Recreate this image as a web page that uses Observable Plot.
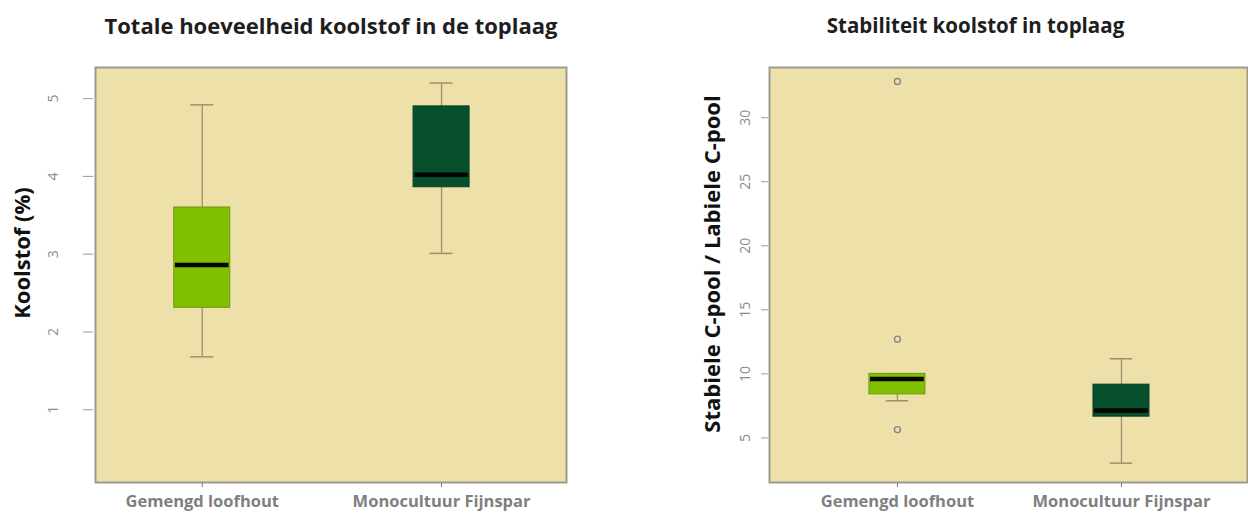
<!DOCTYPE html>
<html>
<head>
<meta charset="utf-8">
<script src="https://cdn.jsdelivr.net/npm/d3@7"></script>
<script src="https://cdn.jsdelivr.net/npm/@observablehq/plot@0.6"></script>
<style>
  html, body { margin: 0; padding: 0; background: #ffffff; overflow: hidden; }
  #wrap { position: relative; width: 1248px; height: 517px; }
  #left, #right { position: absolute; top: 0; }
  #left { left: 0; }
  #right { left: 640px; }
</style>
</head>
<body>
<div id="wrap"><div id="left"></div><div id="right"></div></div>
<script>
// ---- data ----
const categories = ["Gemengd loofhout", "Monocultuur Fijnspar"];
const positions = [1, 2];
const boxColors = ["#80c000", "#07502d"];
const boxEdges = ["#6a9a10", "#0a3d24"];

// Panel 1: Totale hoeveelheid koolstof (%)
const carbonLow = [1.68, 3.01];
const carbonQ1 = [2.31, 3.86];
const carbonMedian = [2.86, 4.02];
const carbonQ3 = [3.60, 4.90];
const carbonHigh = [4.92, 5.20];
const carbonOutliers = [];
const carbonTicks = [1, 2, 3, 4, 5];

// Panel 2: Stabiele C-pool / Labiele C-pool
const ratioLow = [7.9, 3.03];
const ratioQ1 = [8.4, 6.66];
const ratioMedian = [9.6, 7.15];
const ratioQ3 = [10.0, 9.16];
const ratioHigh = [10.0, 11.18];
const ratioOutliers = [
  {group: 0, value: 32.83},
  {group: 0, value: 12.71},
  {group: 0, value: 5.65}
];
const ratioTicks = [5, 10, 15, 20, 25, 30];

const bg = "#ede0a9";
const whiskerColor = "#9d9070";
const idx = [0, 1];

function panel(o) {
  const half = o.boxHalf, cap = o.capHalf;
  return Plot.plot({
    width: o.width,
    height: 517,
    marginLeft: o.marginLeft,
    marginRight: o.marginRight,
    marginTop: 67,
    marginBottom: 35,
    x: {domain: o.xDomain, axis: null},
    y: {domain: o.yDomain, axis: null},
    style: {fontFamily: "'Open Sans', sans-serif", background: "transparent", overflow: "visible"},
    marks: [
      Plot.frame({fill: bg, stroke: null}),
      Plot.ruleX(idx, {x: i => positions[i], y1: i => o.low[i], y2: i => o.q1[i], stroke: whiskerColor, strokeWidth: 1.3}),
      Plot.ruleX(idx, {x: i => positions[i], y1: i => o.q3[i], y2: i => o.high[i], stroke: whiskerColor, strokeWidth: 1.3}),
      Plot.ruleY(idx, {y: i => o.low[i], x1: i => positions[i] - cap, x2: i => positions[i] + cap, stroke: whiskerColor, strokeWidth: 1.5}),
      Plot.ruleY(idx, {y: i => o.high[i], x1: i => positions[i] - cap, x2: i => positions[i] + cap, stroke: whiskerColor, strokeWidth: 1.5}),
      Plot.rect(idx, {x1: i => positions[i] - half, x2: i => positions[i] + half, y1: i => o.q1[i], y2: i => o.q3[i], fill: i => boxColors[i], stroke: i => boxEdges[i], strokeWidth: 1}),
      Plot.ruleY(idx, {y: i => o.median[i], x1: i => positions[i] - half + 0.005, x2: i => positions[i] + half - 0.005, stroke: "#050505", strokeWidth: 4.5}),
      Plot.dot(o.outliers, {x: d => positions[d.group], y: d => d.value, r: 3, stroke: "#858585", strokeWidth: 1.4, fill: "none"}),
      Plot.frame({stroke: "#9a9a92", strokeWidth: 2}),
      Plot.axisY({ticks: o.ticks, tickSize: o.tickSize, dx: o.tickDx, tickFormat: () => "", stroke: "#9a9a9a", label: null}),
      Plot.text(o.ticks, {frameAnchor: "left", y: d => d, text: d => String(d), rotate: -90, dx: o.tickLabelDx, fontSize: 14, fill: "#8a8a8a", textAnchor: "middle", lineAnchor: "middle"}),
      Plot.axisX({ticks: positions, tickFormat: p => categories[p - 1], tickSize: 5, tickPadding: 8, fontSize: 16.5, fontWeight: "bold", color: "#7f7f7f", label: null}),
      Plot.text([o.yLabel], {frameAnchor: "left", rotate: -90, dx: o.yLabelDx, dy: o.yLabelDy, fontSize: 22, fontWeight: "bold", fill: "#111", textAnchor: "middle", lineAnchor: "middle"}),
      Plot.text([o.title], {frameAnchor: "top", dx: o.titleDx, dy: -41, fontSize: o.titleSize, fontWeight: "bold", fill: "#1e1e1e", lineAnchor: "middle"})
    ]
  });
}

document.getElementById("left").appendChild(panel({
  width: 640, marginLeft: 95, marginRight: 74,
  xDomain: [0.554, 2.522], yDomain: [0.064, 5.40],
  low: carbonLow, q1: carbonQ1, median: carbonMedian, q3: carbonQ3, high: carbonHigh,
  outliers: carbonOutliers, ticks: carbonTicks,
  boxHalf: 0.117, capHalf: 0.048,
  tickSize: 10, tickDx: -2, tickLabelDx: -42,
  yLabel: "Koolstof (%)", yLabelDx: -73, yLabelDy: -22,
  title: "Totale hoeveelheid koolstof in de toplaag", titleDx: 0, titleSize: 22
}));

document.getElementById("right").appendChild(panel({
  width: 608, marginLeft: 129, marginRight: 1,
  xDomain: [0.429, 2.5625], yDomain: [1.52, 33.92],
  low: ratioLow, q1: ratioQ1, median: ratioMedian, q3: ratioQ3, high: ratioHigh,
  outliers: ratioOutliers, ticks: ratioTicks,
  boxHalf: 0.125, capHalf: 0.05,
  tickSize: 7, tickDx: -1, tickLabelDx: -24,
  yLabel: "Stabiele C-pool / Labiele C-pool", yLabelDx: -57, yLabelDy: -11,
  title: "Stabiliteit koolstof in toplaag", titleDx: -33, titleSize: 20.5
}));
</script>
</body>
</html>
